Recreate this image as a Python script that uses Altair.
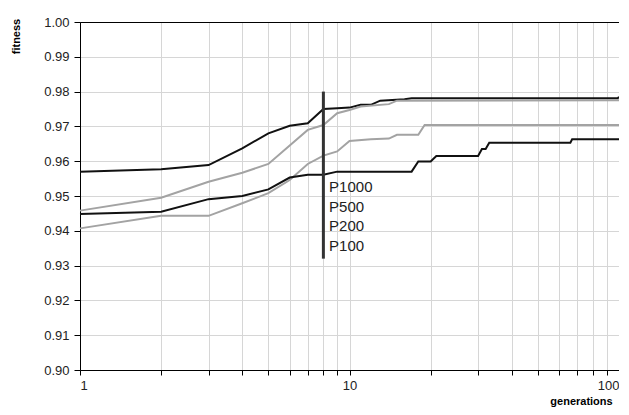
import altair as alt
import pandas as pd

series_names = ["P1000", "P500", "P200", "P100"]
series_colors = ["#111111", "#a3a3a3", "#a3a3a3", "#111111"]

p1000_gen = [1, 2, 3, 4, 5, 6, 7, 8, 9, 10, 11, 12, 13, 16, 17, 99, 100]
p1000_fit = [0.9570, 0.9577, 0.9589, 0.9637, 0.9680, 0.9702, 0.9709, 0.9750, 0.9752,
             0.9754, 0.9762, 0.9762, 0.9774, 0.9778, 0.9781, 0.9781, 0.9785]

p500_gen = [1, 2, 3, 4, 5, 6, 7, 8, 9, 10, 11, 14, 15, 100]
p500_fit = [0.9458, 0.9495, 0.9541, 0.9567, 0.9592, 0.9645, 0.9690, 0.9704, 0.9738,
            0.9747, 0.9757, 0.9764, 0.9774, 0.9775]

p200_gen = [1, 2, 3, 4, 5, 6, 7, 8, 9, 10, 12, 14, 15, 18, 19, 100]
p200_fit = [0.9407, 0.9443, 0.9443, 0.9479, 0.9508, 0.9546, 0.9592, 0.9616, 0.9628,
            0.9658, 0.9663, 0.9665, 0.9676, 0.9676, 0.9704, 0.9704]

p100_gen = [1, 2, 3, 4, 5, 6, 7, 8, 9, 17, 18, 20, 21, 30, 31, 32, 33, 66, 67, 100]
p100_fit = [0.9448, 0.9455, 0.9491, 0.9500, 0.9519, 0.9553, 0.9561, 0.9561, 0.9570,
            0.9570, 0.9599, 0.9599, 0.9615, 0.9615, 0.9635, 0.9635, 0.9653, 0.9653,
            0.9663, 0.9663]

marker_gen = 8
marker_low = 0.932
marker_high = 0.980
label_gen = 8.4

x_grid_values = [1, 2, 3, 4, 5, 6, 7, 8, 9, 10, 20, 30, 40, 50, 60, 70, 80, 90, 100]
y_values = [0.90, 0.91, 0.92, 0.93, 0.94, 0.95, 0.96, 0.97, 0.98, 0.99, 1.00]

rows = []
for name, gens, fits in [("P1000", p1000_gen, p1000_fit), ("P500", p500_gen, p500_fit),
                         ("P200", p200_gen, p200_fit), ("P100", p100_gen, p100_fit)]:
    for i, (g, f) in enumerate(zip(gens, fits)):
        rows.append({"series": name, "generations": g, "fitness": f, "idx": i})
df = pd.DataFrame(rows)

x_scale = alt.Scale(type="log", domain=[1, 100], nice=False)
y_scale = alt.Scale(domain=[0.90, 1.00], nice=False, zero=False)

x_axis = alt.Axis(
    values=x_grid_values,
    labelExpr="datum.value == 1 || datum.value == 10 || datum.value == 100 ? format(datum.value, 'd') : ''",
    labelOverlap=False,
    title="generations",
    titleX=501, titleY=31, titleAlign="center", titleBaseline="middle",
    titleFontWeight="bold", titleFontSize=11,
    tickSize=5, labelPadding=4, labelFontSize=13,
    grid=True,
    gridColor={"condition": {"test": "datum.value >= 99.9", "value": "#000000"}, "value": "#d6d6d6"},
    domainColor="#000000", tickColor="#000000", labelColor="#222222",
)
y_axis = alt.Axis(
    values=y_values, format=".2f", labelOverlap=False, tickCount=11,
    title="fitness",
    titleX=-64, titleY=14, titleAngle=-90, titleAlign="center", titleBaseline="middle",
    titleFontWeight="bold", titleFontSize=11,
    tickSize=6, labelPadding=5, labelFontSize=13,
    grid=True,
    gridColor={"condition": {"test": "datum.value >= 0.9999", "value": "#000000"}, "value": "#d6d6d6"},
    domainColor="#000000", tickColor="#000000", labelColor="#222222",
)

lines = alt.Chart(df).mark_line(strokeWidth=2).encode(
    x=alt.X("generations:Q", scale=x_scale, axis=x_axis, title="generations"),
    y=alt.Y("fitness:Q", scale=y_scale, axis=y_axis, title="fitness"),
    color=alt.Color("series:N", scale=alt.Scale(domain=series_names, range=series_colors), legend=None),
    order="idx:Q",
)

marker_df = pd.DataFrame({"generations": [marker_gen], "fitness": [marker_low], "high": [marker_high]})
marker = alt.Chart(marker_df).mark_rule(color="#333333", strokeWidth=3).encode(
    x=alt.X("generations:Q", scale=x_scale, axis=x_axis, title="generations"),
    y=alt.Y("fitness:Q", scale=y_scale, axis=y_axis, title="fitness"),
    y2="high:Q",
)

label_df = pd.DataFrame({"generations": [label_gen], "text": ["\n".join(series_names)]})
labels = alt.Chart(label_df).mark_text(
    align="left", baseline="top", fontSize=15, lineHeight=19.6, lineBreak="\n",
    font="Liberation Sans", color="#222222",
).encode(
    x=alt.X("generations:Q", scale=x_scale, axis=x_axis, title="generations"),
    y=alt.value(158),
    text="text:N",
)

chart = alt.layer(lines, marker, labels).properties(
    width=539, height=348,
    autosize=alt.AutoSizeParams(type="none"),
    padding={"left": 72, "top": 14, "right": 0, "bottom": 37},
).configure(
    font="Liberation Sans"
).configure_view(
    stroke="#000000", strokeWidth=1
)

chart.save("out.html", embed_options={"renderer": "svg", "actions": False})
